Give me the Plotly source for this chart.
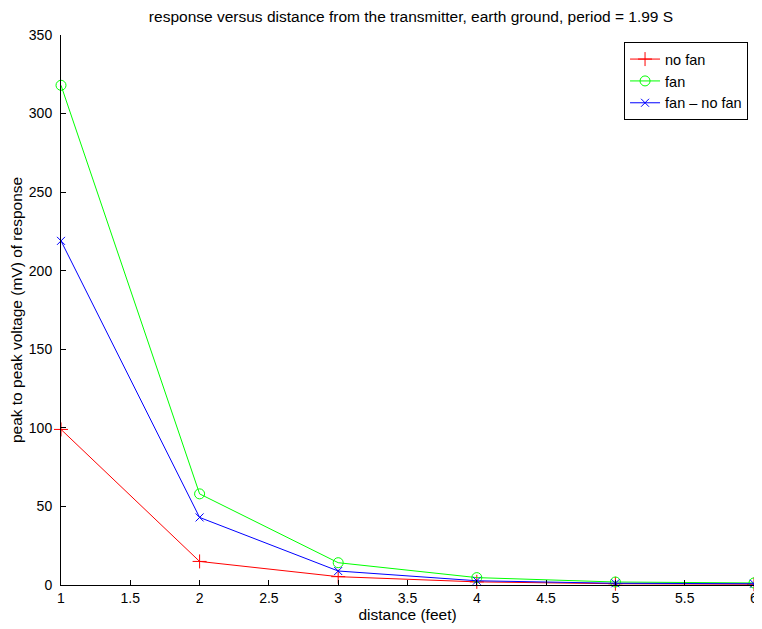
import plotly.graph_objects as go

distance = [1, 2, 3, 4, 5, 6]
no_fan = [99, 15, 5.3, 2.0, 0.8, 0.5]
fan = [318, 58, 14.2, 4.7, 1.9, 1.3]
fan_minus_no_fan = [219, 43, 8.9, 2.7, 1.1, 0.8]

x_ticks = [1, 1.5, 2, 2.5, 3, 3.5, 4, 4.5, 5, 5.5, 6]
x_tick_text = ['1', '1.5', '2', '2.5', '3', '3.5', '4', '4.5', '5', '5.5', '6']
y_ticks = [0, 50, 100, 150, 200, 250, 300, 350]

fig = go.Figure(data=[
    go.Scatter(
        x=distance, y=no_fan, mode='lines+markers', name='no fan',
        line=dict(color='#ff0000', width=1),
        marker=dict(symbol='cross-thin', size=10, line=dict(color='#ff0000', width=1)),
        cliponaxis=False
    ),
    go.Scatter(
        x=distance, y=fan, mode='lines+markers', name='fan',
        line=dict(color='#00ff00', width=1),
        marker=dict(symbol='circle-open', size=10, color='#00ff00', line=dict(width=1)),
        cliponaxis=False
    ),
    go.Scatter(
        x=distance, y=fan_minus_no_fan, mode='lines+markers', name='fan \u2013 no fan',
        line=dict(color='#0000ff', width=1),
        marker=dict(symbol='x-thin', size=8, line=dict(color='#0000ff', width=1)),
        cliponaxis=False
    ),
])

# page body has an 8px margin, so the figure is a bit smaller than the window
fig.update_layout(
    width=754,
    height=621,
    plot_bgcolor='white',
    paper_bgcolor='white',
    font=dict(family='Liberation Sans, Arial, sans-serif', size=14, color='black'),
    title=dict(
        text='response versus distance from the transmitter, earth ground, period = 1.99 S',
        x=403 / 754, xanchor='center', y=1 - 9 / 621, yanchor='middle',
        font=dict(size=15.5)
    ),
    margin=dict(l=53, r=4, t=27, b=44),
    showlegend=True,
    legend=dict(
        x=0.9914, y=0.987, xanchor='right', yanchor='top',
        bgcolor='white', bordercolor='black', borderwidth=1,
        font=dict(size=14.5), tracegroupgap=0, itemwidth=30
    ),
    xaxis=dict(
        range=[1, 6], tickvals=x_ticks, ticktext=x_tick_text,
        ticks='inside', ticklen=5, tickcolor='black', tickfont=dict(size=14),
        ticklabeloverflow='allow',
        showgrid=False, zeroline=False, showline=True, linecolor='black', linewidth=1,
        title=dict(text='distance (feet)', standoff=0, font=dict(size=15.5))
    ),
    yaxis=dict(
        range=[0, 350], tickvals=y_ticks,
        ticks='inside', ticklen=5, tickcolor='black', tickfont=dict(size=14),
        ticklabelstandoff=5,
        showgrid=False, zeroline=False, showline=True, linecolor='black', linewidth=1,
        title=dict(text='peak to peak voltage (mV) of response', standoff=2, font=dict(size=15.5))
    ),
)

fig.write_html("out.html")
